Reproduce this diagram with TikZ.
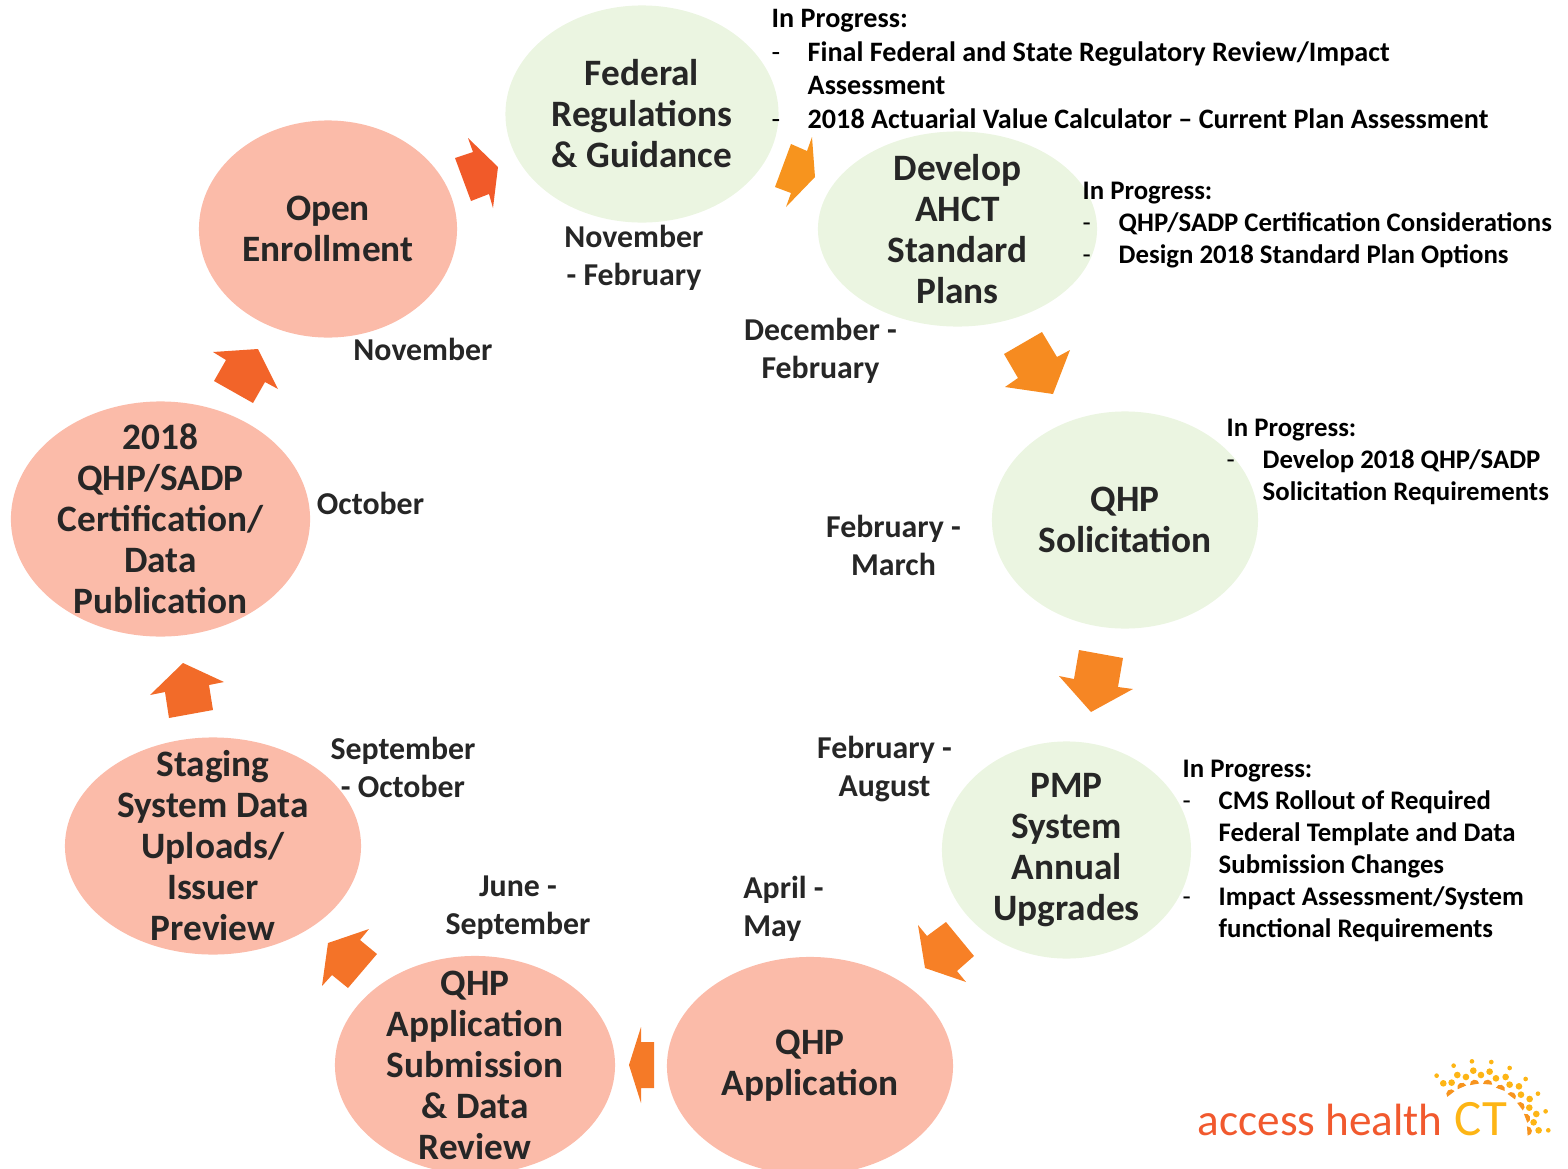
\documentclass[tikz,border=0pt]{standalone}
\usepackage{fontspec}
\setmainfont{Carlito}
\usetikzlibrary{shapes.geometric}

\definecolor{peachfill}{HTML}{FBBBA9}
\definecolor{greenfill}{HTML}{EBF5E1}
\definecolor{titletext}{HTML}{262626}
\definecolor{logored}{HTML}{F1592E}
\definecolor{logoyellow}{HTML}{FDB515}
\definecolor{logoorange}{HTML}{F7941E}

\newcommand{\itemdash}{\makebox[10.24pt][l]{\normalfont -}}
\newcommand{\itemgap}{\hspace*{10.24pt}}

\tikzset{
  stage/.style={ellipse,inner sep=-40pt,text=titletext,align=center,
    font=\fontsize{10.6}{11.66}\selectfont\bfseries},
  greenstage/.style={stage,fill=greenfill},
  peachstage/.style={stage,fill=peachfill},
  datelabel/.style={inner sep=0pt,text=titletext,align=center,
    font=\fontsize{9.05}{10.8}\selectfont\bfseries},
  notes/.style={inner sep=0pt,anchor=north west,align=left,
    font=\fontsize{7.62}{9.1}\selectfont\bfseries},
  bignotes/.style={notes,font=\fontsize{8}{9.53}\selectfont\bfseries},
  blockarrow/.style={line width=0pt}
}

\begin{document}
\begin{tikzpicture}[x=0.01cm,y=-0.01cm]

\useasboundingbox (0,0) rectangle (1568,1169);

% green stages
\draw (642,114) node (federal) [greenstage,minimum width=273*0.2845pt,minimum height=217*0.2845pt] {Federal\\Regulations\\\& Guidance};
\draw (957.5,229) node (ahct) [greenstage,minimum width=279*0.2845pt,minimum height=195*0.2845pt] {Develop\\AHCT\\Standard\\Plans};
\draw (1125,520) node (solicit) [greenstage,minimum width=266*0.2845pt,minimum height=217*0.2845pt] {QHP\\Solicitation};
\draw (1066.5,850) node (pmp) [greenstage,minimum width=249*0.2845pt,minimum height=217*0.2845pt] {PMP\\System\\Annual\\Upgrades};

% peach stages
\draw (810,1066) node (application) [peachstage,minimum width=286*0.2845pt,minimum height=218*0.2845pt] {QHP\\Application};
\draw (475,1065) node (submission) [peachstage,minimum width=280*0.2845pt,minimum height=218*0.2845pt] {QHP\\Application\\Submission\\\& Data\\Review};
\draw (213,846) node (staging) [peachstage,minimum width=296*0.2845pt,minimum height=217*0.2845pt] {Staging\\System Data\\Uploads/\\Issuer\\Preview};
\draw (160.5,519) node (certify) [peachstage,minimum width=299*0.2845pt,minimum height=235*0.2845pt] {2018\\QHP/SADP\\Certification/\\Data\\Publication};
\draw (328,229) node (enroll) [peachstage,minimum width=258*0.2845pt,minimum height=217*0.2845pt] {Open\\Enrollment};

% block arrows, clockwise from open enrollment
\fill[blockarrow,fill={rgb,255:red,241;green,90;blue,41}] (468,138)--(498,167)--(493,208)--(489,194)--(471,201)--(455,158)--(473,152)--cycle;
\fill[blockarrow,fill={rgb,255:red,247;green,148;blue,30}] (812,137)--(815,177)--(786,207)--(791,193)--(775,187)--(791,144)--(807,151)--cycle;
\fill[blockarrow,fill={rgb,255:red,246;green,139;blue,32}] (1042,332)--(1057,357)--(1070,350)--(1053,394)--(1005,387)--(1018,378)--(1004,354)--cycle;
\fill[blockarrow,fill={rgb,255:red,246;green,134;blue,36}] (1079,650)--(1123,658)--(1118,687)--(1133,689)--(1091,712)--(1059,676)--(1074,679)--cycle;
\fill[blockarrow,fill={rgb,255:red,247;green,128;blue,38}] (918,925)--(927,936)--(946,922)--(974,956)--(957,971)--(966,982)--(925,968)--cycle;
\fill[blockarrow,fill={rgb,255:red,245;green,122;blue,39}] (641,1027)--(641,1042)--(654,1042)--(654,1088)--(641,1088)--(641,1103)--(629,1065)--cycle;
\fill[blockarrow,fill={rgb,255:red,244;green,115;blue,40}] (369,929)--(360,940)--(377,954)--(348,988)--(332,975)--(322,986)--(328,943)--cycle;
\fill[blockarrow,fill={rgb,255:red,242;green,107;blue,41}] (183,663)--(224,682)--(209,685)--(213,710)--(169,718)--(165,692)--(150,695)--cycle;
\fill[blockarrow,fill={rgb,255:red,242;green,100;blue,41}] (213,352)--(258,349)--(278,389)--(265,382)--(253,403)--(214,381)--(226,360)--cycle;

% month labels
\draw (634,257.5) node (datefederal) [datelabel] {November\\- February};
\draw (820.5,351) node (dateahct) [datelabel] {December -\\February};
\draw (893.5,545.5) node (datesolicit) [datelabel] {February -\\March};
\draw (884.5,769) node (datepmp) [datelabel] {February -\\August};
\draw (783.5,909) node (dateapplication) [datelabel,align=left] {April -\\May};
\draw (518,907.5) node (datesubmission) [datelabel] {June -\\September};
\draw (403,767) node (datestaging) [datelabel] {September\\- October};
\draw (370.5,503) node (datecertify) [datelabel] {October};
\draw (423,349) node (dateenroll) [datelabel] {November};

% in progress notes
\draw (771,9) node (notefederal) [bignotes] {In Progress:\\
  \itemdash Final Federal and State Regulatory Review/Impact\\
  \itemgap Assessment\\
  \itemdash 2018 Actuarial Value Calculator -- Current Plan Assessment};
\draw (1082,181) node (noteahct) [notes] {In Progress:\\
  \itemdash QHP/SADP Certification Considerations\\
  \itemdash Design 2018 Standard Plan Options};
\draw (1226,418) node (notesolicit) [notes] {In Progress:\\
  \itemdash Develop 2018 QHP/SADP\\
  \itemgap Solicitation Requirements};
\draw (1182,759) node (notepmp) [notes] {In Progress:\\
  \itemdash CMS Rollout of Required\\
  \itemgap Federal Template and Data\\
  \itemgap Submission Changes\\
  \itemdash Impact Assessment/System\\
  \itemgap functional Requirements};

% logo
\draw (1197,1135) node (logotext) [anchor=base west,inner sep=0pt,text=logored,font=\fontsize{12.85}{14}\selectfont] {access health};
\draw (1454,1135) node (logoct) [anchor=base west,inner sep=0pt,text=logoyellow,font=\fontsize{14.5}{16}\selectfont] {CT};
\begin{scope}[shift={(1150,1030)},scale=0.3333]
  \foreach \dx/\dy in {860/137,911/107,966/94,1024/96,1079/114,1127/147,1164/191,1187/244,1195/301}
    \fill[logoyellow] (\dx,\dy) circle[radius=7];
  \foreach \dx/\dy in {880/160,905/158,922/135,948/141,970/122,993/135,1019/125,1038/145,1067/141,1079/164,1107/169,1113/194,1139/207,1138/233,1159/252,1151/277,1166/301}
    \fill[logoyellow] (\dx,\dy) circle[radius=10];
  \foreach \dx/\dy/\da in {903/192/38,936/172/24,974/163/10,1013/163/-5,1051/178/-20,1084/200/-36,1110/230/-53,1127/265/-69,1132/303/-86}
    \fill[logoorange,shift={(\dx,\dy)},rotate=\da] (-14,0) arc[start angle=180,end angle=360,radius=14] -- cycle;
\end{scope}

\end{tikzpicture}
\end{document}
